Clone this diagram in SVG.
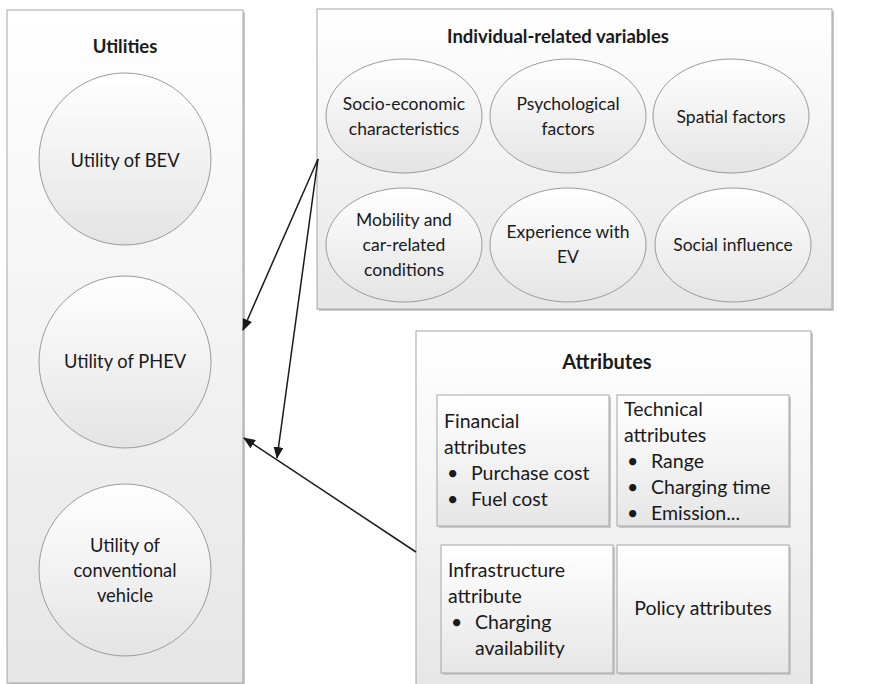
<svg xmlns="http://www.w3.org/2000/svg" width="888" height="684" viewBox="0 0 888 684">
<defs>
<linearGradient id="gBox" x1="0" y1="0" x2="0" y2="1">
<stop offset="0" stop-color="#ffffff"/><stop offset="1" stop-color="#e6e6e6"/>
</linearGradient>
<linearGradient id="gShape" x1="0" y1="0" x2="0" y2="1">
<stop offset="0" stop-color="#ffffff"/><stop offset="1" stop-color="#e4e4e4"/>
</linearGradient>
<marker id="arr" viewBox="0 0 12 10" refX="11" refY="5" markerWidth="12" markerHeight="10" markerUnits="userSpaceOnUse" orient="auto">
<path d="M0,0 L12,5 L0,10 Z" fill="#1a1a1a"/>
</marker>
</defs>
<style>
.box{fill:url(#gBox);stroke:#a6a6a6;stroke-width:1}
.shadow{fill:#c8c8c8}
.shape{fill:url(#gShape);stroke:#9a9a9a;stroke-width:1}
.sub{fill:url(#gBox);stroke:#a6a6a6;stroke-width:1}
text{font-family:Lato,"Liberation Sans",sans-serif;font-size:17.5px;fill:#1a1a1a}
.c{text-anchor:middle}
.t{font-weight:bold;font-size:18.5px}
.t2{font-weight:bold;font-size:20px}
.u{font-size:18.3px}
.a{font-size:19.5px}
.edge{stroke:#1a1a1a;stroke-width:1.5;fill:none}
</style>

<g id="utilities">
<rect class="shadow" x="9" y="12" width="236" height="673"/>
<rect class="box" x="7" y="10" width="236" height="673"/>
<text class="c t" x="125" y="53">Utilities</text>
</g>
<g id="bev">
<circle class="shape" cx="125" cy="159" r="86"/>
<text class="c u" x="125" y="167">Utility of BEV</text>
</g>
<g id="phev">
<circle class="shape" cx="125" cy="362" r="86"/>
<text class="c u" x="125" y="368">Utility of PHEV</text>
</g>
<g id="conventional">
<circle class="shape" cx="125" cy="570" r="86"/>
<text class="c u" x="125" y="552">Utility of</text>
<text class="c u" x="125" y="577">conventional</text>
<text class="c u" x="125" y="602">vehicle</text>
</g>

<g id="individual">
<rect class="shadow" x="319" y="11" width="515" height="300"/>
<rect class="box" x="317" y="9" width="515" height="300"/>
<text class="c t" x="558" y="43">Individual-related variables</text>
</g>
<g id="socio">
<ellipse class="shape" cx="404" cy="116" rx="78" ry="57"/>
<text class="c" x="404" y="110">Socio-economic</text>
<text class="c" x="404" y="135">characteristics</text>
</g>
<g id="psych">
<ellipse class="shape" cx="568" cy="116" rx="78" ry="57"/>
<text class="c" x="568" y="110">Psychological</text>
<text class="c" x="568" y="135">factors</text>
</g>
<g id="spatial">
<ellipse class="shape" cx="731" cy="116" rx="78" ry="57"/>
<text class="c" x="731" y="123">Spatial factors</text>
</g>
<g id="mobility">
<ellipse class="shape" cx="404" cy="245" rx="78" ry="57"/>
<text class="c" x="404" y="226">Mobility and</text>
<text class="c" x="404" y="251">car-related</text>
<text class="c" x="404" y="276">conditions</text>
</g>
<g id="experience">
<ellipse class="shape" cx="568" cy="245" rx="78" ry="57"/>
<text class="c" x="568" y="238">Experience with</text>
<text class="c" x="568" y="263">EV</text>
</g>
<g id="social">
<ellipse class="shape" cx="733" cy="245" rx="78" ry="57"/>
<text class="c" x="733" y="251">Social influence</text>
</g>

<g id="attributes">
<rect class="shadow" x="418" y="333" width="395" height="360"/>
<rect class="box" x="416" y="331" width="395" height="360"/>
<text class="c t2" x="607" y="369">Attributes</text>
</g>
<g id="financial">
<rect class="shadow" x="439" y="397" width="172" height="131"/>
<rect class="sub" x="437" y="395" width="172" height="131"/>
<text class="a" x="444" y="428">Financial</text>
<text class="a" x="444" y="454">attributes</text>
<text class="a" x="447" y="480">•</text><text class="a" x="471" y="480">Purchase cost</text>
<text class="a" x="447" y="506">•</text><text class="a" x="471" y="506">Fuel cost</text>
</g>
<g id="technical">
<rect class="shadow" x="619" y="397" width="172" height="131"/>
<rect class="sub" x="617" y="395" width="172" height="131"/>
<text class="a" x="624" y="416">Technical</text>
<text class="a" x="624" y="442">attributes</text>
<text class="a" x="627" y="468">•</text><text class="a" x="651" y="468">Range</text>
<text class="a" x="627" y="494">•</text><text class="a" x="651" y="494">Charging time</text>
<text class="a" x="627" y="520">•</text><text class="a" x="651" y="520">Emission...</text>
</g>
<g id="infrastructure">
<rect class="shadow" x="443" y="547" width="172" height="128"/>
<rect class="sub" x="441" y="545" width="172" height="128"/>
<text class="a" x="448" y="577">Infrastructure</text>
<text class="a" x="448" y="603">attribute</text>
<text class="a" x="451" y="629">•</text><text class="a" x="475" y="629">Charging</text>
<text class="a" x="475" y="655">availability</text>
</g>
<g id="policy">
<rect class="shadow" x="619" y="547" width="172" height="128"/>
<rect class="sub" x="617" y="545" width="172" height="128"/>
<text class="c a" x="703" y="615">Policy attributes</text>
</g>

<g id="connectors">
<line class="edge" x1="318" y1="159" x2="243" y2="330" marker-end="url(#arr)"/>
<line class="edge" x1="318" y1="159" x2="277" y2="458" marker-end="url(#arr)"/>
<line class="edge" x1="416" y1="552" x2="244" y2="438" marker-end="url(#arr)"/>
</g>
</svg>
